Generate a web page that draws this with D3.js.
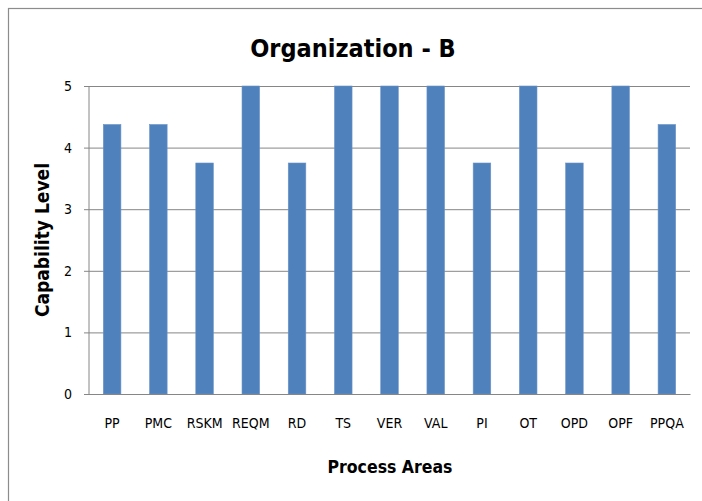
<!DOCTYPE html>
<html>
<head>
  <meta charset="UTF-8" />
  <script src="https://d3js.org/d3.v7.min.js"></script>
  <style>
    body { margin: 0; background: #fff; }
    text { font-family: "Liberation Sans Narrow", "DejaVu Sans Condensed", sans-serif; fill: #000; }
  </style>
</head>
<body>
  <script>
    // data
    var areas = ["PP", "PMC", "RSKM", "REQM", "RD", "TS", "VER", "VAL", "PI", "OT", "OPD", "OPF", "PPQA"];
    var levels = [4.375, 4.375, 3.75, 5, 3.75, 5, 5, 5, 3.75, 5, 3.75, 5, 4.375];
    var yTicks = [0, 1, 2, 3, 4, 5];

    var width = 702, height = 501;
    var plot = { left: 89, right: 690, top: 86, bottom: 394 };

    var svg = d3.select("body").append("svg")
      .attr("width", width)
      .attr("height", height);

    // chart border
    svg.append("rect")
      .attr("x", 8.5).attr("y", 8.5)
      .attr("width", 720).attr("height", 520)
      .attr("fill", "none")
      .attr("stroke", "#8c8c8c")
      .attr("stroke-width", 1.2);

    var x = d3.scaleBand()
      .domain(areas)
      .range([plot.left, plot.right])
      .paddingInner(0.62)
      .paddingOuter(0.31);

    var y = d3.scaleLinear()
      .domain([0, 5])
      .range([plot.bottom, plot.top]);

    // gridlines + y ticks
    var yAxis = d3.axisLeft(y)
      .tickValues(yTicks)
      .tickSize(-(plot.right - plot.left))
      .tickPadding(17)
      .tickFormat(d3.format("d"));

    var gy = svg.append("g")
      .attr("transform", "translate(" + plot.left + ",0)")
      .call(yAxis);
    gy.select(".domain").remove();
    gy.selectAll(".tick line")
      .attr("x1", -5)
      .attr("stroke", "#868686");
    gy.selectAll(".tick text")
      .style("font-size", "14px")
      .attr("fill", "#222");

    // y axis line
    svg.append("line")
      .attr("x1", plot.left).attr("x2", plot.left)
      .attr("y1", plot.top).attr("y2", plot.bottom)
      .attr("stroke", "#868686");

    // bars
    svg.selectAll("rect.bar")
      .data(areas)
      .enter()
      .append("rect")
      .attr("class", "bar")
      .attr("x", function (d) { return x(d); })
      .attr("width", x.bandwidth())
      .attr("y", function (d, i) { return y(levels[i]); })
      .attr("height", function (d, i) { return y(0) - y(levels[i]); })
      .attr("fill", "#4f81bd")
      .attr("stroke", "#6b93c6")
      .attr("stroke-width", 0.6);

    // x axis
    var gx = svg.append("g")
      .attr("transform", "translate(0," + plot.bottom + ")")
      .call(d3.axisBottom(x).tickSize(0).tickPadding(24));
    gx.select(".domain").attr("stroke", "#868686");
    gx.selectAll(".tick text")
      .style("font-size", "14px")
      .attr("fill", "#222");

    // titles
    svg.append("text")
      .attr("x", 353).attr("y", 57)
      .attr("text-anchor", "middle")
      .style("font-size", "25px")
      .style("font-weight", "bold")
      .text("Organization - B");

    svg.append("text")
      .attr("x", 390).attr("y", 473)
      .attr("text-anchor", "middle")
      .style("font-size", "17.5px")
      .style("font-weight", "bold")
      .text("Process Areas");

    svg.append("text")
      .attr("transform", "translate(49,240) rotate(-90)")
      .attr("text-anchor", "middle")
      .style("font-size", "19px")
      .style("font-weight", "bold")
      .text("Capability Level");
  </script>
</body>
</html>
